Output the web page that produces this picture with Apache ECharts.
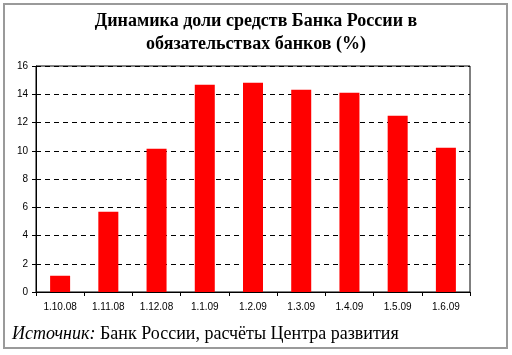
<!DOCTYPE html>
<html><head><meta charset="utf-8">
<script src="https://cdn.jsdelivr.net/npm/echarts@6/dist/echarts.min.js"></script>
<style>html,body{margin:0;padding:0;background:#fff}#c{width:512px;height:355px}</style>
</head><body><div id="c"></div>
<script>
const categories = ['1.10.08','1.11.08','1.12.08','1.1.09','1.2.09','1.3.09','1.4.09','1.5.09','1.6.09'];
const shareValues = [1.15, 5.69, 10.15, 14.68, 14.82, 14.32, 14.11, 12.48, 10.22];
const titleLines = ['Динамика доли средств Банка России в', 'обязательствах банков (%)'];
const yMin = 0, yMax = 16, yStep = 2;

const chart = echarts.init(document.getElementById('c'), null, {renderer:'canvas'});
chart.setOption({
  animation: false,
  backgroundColor: '#fff',
  title: {
    text: titleLines.join('\n'),
    left: 'center', top: 5,
    textStyle: {fontFamily: 'Liberation Serif', fontWeight: 'bold', fontSize: 18, lineHeight: 23, color: '#000'}
  },
  grid: {left: 36, right: 42, top: 66, bottom: 63, show: true, borderColor: '#000', borderWidth: 1, backgroundColor: 'transparent'},
  xAxis: {
    type: 'category', data: categories,
    axisLine: {lineStyle: {color: '#000', width: 1}},
    axisTick: {show: true, inside: false, length: 4, lineStyle: {color: '#000'}},
    axisLabel: {fontFamily: 'Liberation Sans', fontSize: 10, color: '#000', margin: 10}
  },
  yAxis: {
    type: 'value', min: yMin, max: yMax, interval: yStep,
    axisLine: {show: true, lineStyle: {color: '#000', width: 1}},
    axisTick: {show: true, length: 4, lineStyle: {color: '#000'}},
    axisLabel: {fontFamily: 'Liberation Sans', fontSize: 10, color: '#000', margin: 8},
    splitLine: {show: true, lineStyle: {color: '#000', type: [5, 4], width: 1}}
  },
  series: [{
    type: 'bar', data: shareValues, barWidth: 20,
    itemStyle: {color: '#ff0000'}
  }],
  graphic: [
    {type: 'rect', shape: {x: 4, y: 4, width: 503, height: 344}, style: {fill: 'none', stroke: '#9a9a9a', lineWidth: 2}, z: 100},
    {type: 'text', left: 12, top: 325, style: {
      text: '{i|Источник:} Банк России, расчёты Центра развития',
      rich: {i: {fontFamily: 'Liberation Serif', fontStyle: 'italic', fontSize: 18, fill: '#000'}},
      fontFamily: 'Liberation Serif', fontSize: 18, fill: '#000'
    }}
  ]
});
</script></body></html>
